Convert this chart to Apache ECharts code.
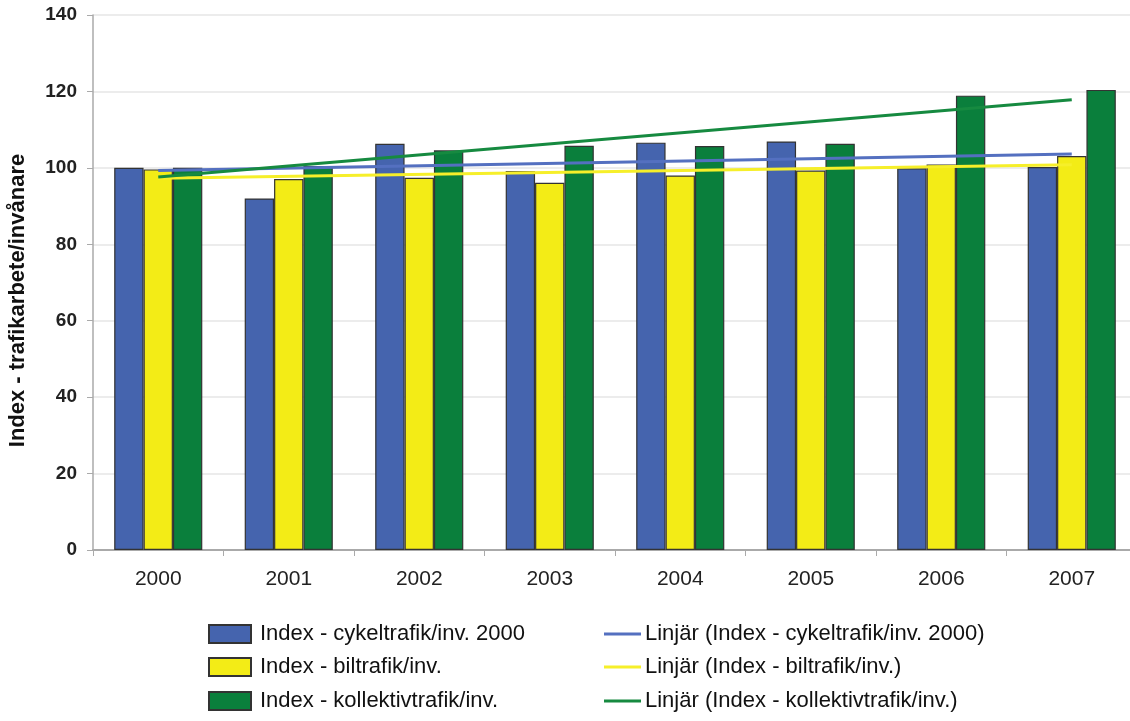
<!DOCTYPE html>
<html><head><meta charset="utf-8">
<script src="https://cdn.jsdelivr.net/npm/echarts@6/dist/echarts.min.js"></script>
<style>html,body{margin:0;padding:0;background:#fff}#c{width:1130px;height:721px}</style>
</head><body><div id="c"></div>
<script>
const years = ['2000','2001','2002','2003','2004','2005','2006','2007'];
const cykel = [100, 92.0, 106.3, 99.2, 106.6, 106.9, 99.9, 100.2];
const bil = [99.6, 97.1, 97.4, 96.1, 98.0, 99.3, 100.9, 103.1];
const kollektiv = [100, 100.5, 104.6, 105.8, 105.7, 106.3, 118.9, 120.4];
// trend line endpoints (first and last year)
const trendCykel = [99.3, 103.6];
const trendBil = [97.3, 100.8];
const trendKollektiv = [97.6, 117.8];
const yTicks = [0, 20, 40, 60, 80, 100, 120, 140];

const names = ['Index - cykeltrafik/inv. 2000','Index - biltrafik/inv.','Index - kollektivtrafik/inv.'];
const lnames = ['Linjär (Index - cykeltrafik/inv. 2000)','Linjär (Index - biltrafik/inv.)','Linjär (Index - kollektivtrafik/inv.)'];
const barColors = ['#4564ae','#f3ec16','#0a7f3c'];
const lineColors = ['#5470c0','#f6ef2a','#168a40'];
const font = 'Liberation Sans, Arial, sans-serif';

function bar(name, data, color){
  return {name, type:'bar', data, barGap:'0%', barCategoryGap:'32.5%',
    itemStyle:{color, borderColor:'#333', borderWidth:1.2}};
}
function trend(name, ends, color){
  return {name, type:'line', data:[[years[0], ends[0]],[years[years.length-1], ends[1]]],
    symbol:'none', lineStyle:{color, width:3}, itemStyle:{color}, z:5};
}
const rowTops = [622, 655, 689];
const legends = [];
names.forEach((n,i)=>legends.push({orient:'horizontal', left:208, top:rowTops[i], padding:0,
  itemWidth:42, itemHeight:18, data:[n], icon:'rect',
  textStyle:{color:'#111', fontSize:22, lineHeight:24, fontFamily:font, padding:[0,0,0,4]}}));
lnames.forEach((n,i)=>legends.push({orient:'horizontal', left:604, top:rowTops[i], padding:0,
  itemWidth:37, itemHeight:3, data:[n], icon:'rect',
  textStyle:{color:'#111', fontSize:22, lineHeight:24, fontFamily:font, padding:[0,0,0,-1]}}));

const chart = echarts.init(document.getElementById('c'));
chart.setOption({
  animation:false,
  textStyle:{fontFamily:font},
  grid:{left:93, right:-7, top:15, bottom:171, containLabel:false, outerBoundsMode:'none'},
  xAxis:{type:'category', data:years,
    axisLine:{lineStyle:{color:'#aaa', width:2}},
    axisTick:{show:true, length:6, lineStyle:{color:'#aaa'}},
    axisLabel:{color:'#222', fontSize:21, margin:19, fontFamily:font}},
  yAxis:{type:'value', min:yTicks[0], max:yTicks[yTicks.length-1], interval:20,
    name:'Index - trafikarbete/invånare', nameLocation:'middle', nameGap:64,
    nameTextStyle:{color:'#111', fontSize:22, fontWeight:'bold', fontFamily:font, padding:[0,36,0,0]},
    axisLine:{show:true, lineStyle:{color:'#aaa', width:1.5}},
    axisTick:{show:true, length:6, lineStyle:{color:'#aaa'}},
    splitLine:{lineStyle:{color:'#e6e6e6', width:1.5}},
    axisLabel:{color:'#222', fontSize:19, fontWeight:'bold', margin:16, fontFamily:font}},
  legend:legends,
  series:[
    bar(names[0], cykel, barColors[0]),
    bar(names[1], bil, barColors[1]),
    bar(names[2], kollektiv, barColors[2]),
    trend(lnames[0], trendCykel, lineColors[0]),
    trend(lnames[1], trendBil, lineColors[1]),
    trend(lnames[2], trendKollektiv, lineColors[2])
  ]
});
</script></body></html>
